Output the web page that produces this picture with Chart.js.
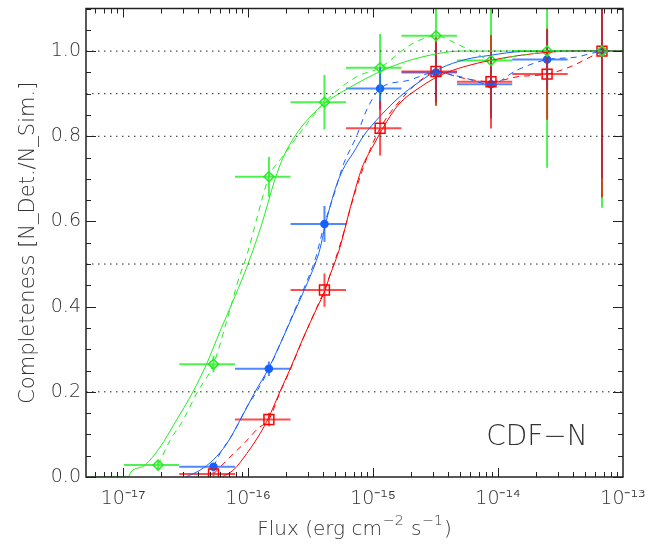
<!DOCTYPE html>
<html>
<head>
<meta charset="utf-8">
<script src="https://cdn.jsdelivr.net/npm/chart.js@4.4.1/dist/chart.umd.min.js"></script>
<style>
  html, body { margin: 0; padding: 0; background: #ffffff; }
  #wrap { width: 652px; height: 544px; }
</style>
</head>
<body>
<div id="wrap"><canvas id="chart_completeness" width="652" height="544"></canvas></div>
<script>
// axis ranges and ticks
const flux_min = 5.06e-18;
const flux_max = 1e-13;
const comp_min = 0;
const comp_max = 1.1;
const x_ticks = [1e-17, 1e-16, 1e-15, 1e-14, 1e-13];
const x_tick_labels = ['10⁻¹⁷', '10⁻¹⁶', '10⁻¹⁵', '10⁻¹⁴', '10⁻¹³'];
const y_ticks = [0, 0.2, 0.4, 0.6, 0.8, 1.0];
const ref_levels = [1.0, 0.9, 0.8, 0.5, 0.2];

// flux bins (edges) used for the horizontal error bars
const bin_edges = [1.02e-17, 2.82e-17, 7.87e-17, 2.19e-16, 6.08e-16, 1.69e-15, 4.70e-15, 1.30e-14, 3.61e-14, 1.0e-13];

// measured completeness, green (diamonds)
const green_flux = [1.91e-17, 5.30e-17, 1.47e-16, 4.09e-16, 1.14e-15, 3.19e-15, 8.79e-15, 2.47e-14, 6.79e-14];
const green_comp = [0.028, 0.265, 0.705, 0.880, 0.961, 1.036, 0.978, 1.0, 1.0];
const green_err = [0.011, 0.019, 0.047, 0.064, 0.079, 0.165, 0.13, 0.274, 0.368];

// measured completeness, blue (filled circles)
const blue_flux = [5.30e-17, 1.47e-16, 4.09e-16, 1.14e-15, 3.19e-15, 8.79e-15, 2.47e-14, 6.79e-14];
const blue_comp = [0.024, 0.254, 0.594, 0.912, 0.950, 0.922, 0.980, 1.0];
const blue_err = [0.008, 0.017, 0.042, 0.05, 0.07, 0.08, 0.07, 0.30];

// measured completeness, red (squares)
const red_flux = [5.30e-17, 1.47e-16, 4.09e-16, 1.14e-15, 3.19e-15, 8.79e-15, 2.47e-14, 6.79e-14];
const red_comp = [0.007, 0.135, 0.439, 0.819, 0.952, 0.928, 0.946, 1.0];
const red_err = [0.006, 0.016, 0.039, 0.064, 0.08, 0.11, 0.107, 0.344];

// model curves (solid)
const green_model_flux = [5.06e-18, 1.10e-17, 1.16e-17, 1.50e-17, 1.98e-17, 2.61e-17, 3.63e-17, 4.66e-17, 5.97e-17, 7.87e-17, 1.00e-16, 1.29e-16, 1.64e-16, 1.91e-16, 2.38e-16, 3.13e-16, 4.13e-16, 6.55e-16, 1.14e-15, 1.64e-15, 2.38e-15, 3.44e-15, 4.97e-15, 1.0e-13];
const green_model_comp = [0, 0, 0.012, 0.028, 0.070, 0.128, 0.200, 0.265, 0.342, 0.424, 0.500, 0.594, 0.698, 0.750, 0.801, 0.845, 0.878, 0.915, 0.952, 0.971, 0.985, 0.995, 1.0, 1.0];

const blue_model_flux = [3.19e-17, 4.13e-17, 5.27e-17, 6.76e-17, 8.63e-17, 1.14e-16, 1.45e-16, 1.80e-16, 2.30e-16, 2.86e-16, 3.44e-16, 3.77e-16, 4.13e-16, 5.13e-16, 5.97e-16, 6.95e-16, 8.36e-16, 1.14e-15, 1.64e-15, 2.38e-15, 3.44e-15, 5.45e-15, 8.63e-15, 1.58e-14, 1.0e-13];
const blue_model_comp = [0, 0.016, 0.040, 0.078, 0.133, 0.200, 0.253, 0.311, 0.381, 0.443, 0.500, 0.536, 0.589, 0.687, 0.731, 0.761, 0.800, 0.847, 0.893, 0.929, 0.959, 0.980, 0.990, 0.999, 1.0];

const red_model_flux = [6.19e-17, 7.62e-17, 9.77e-17, 1.25e-16, 1.45e-16, 1.80e-16, 2.17e-16, 2.77e-16, 3.55e-16, 4.13e-16, 4.53e-16, 4.97e-16, 5.45e-16, 6.76e-16, 8.17e-16, 1.0e-15, 1.37e-15, 1.64e-15, 2.38e-15, 3.44e-15, 5.45e-15, 8.63e-15, 1.50e-14, 2.46e-14, 3.77e-14, 1.0e-13];
const red_model_comp = [0, 0.016, 0.055, 0.102, 0.137, 0.200, 0.253, 0.327, 0.396, 0.438, 0.474, 0.505, 0.540, 0.645, 0.726, 0.777, 0.847, 0.878, 0.915, 0.943, 0.964, 0.978, 0.990, 0.997, 1.0, 1.0];

// dashed curves
const green_dash_flux = [1.91e-17, 2.38e-17, 3.02e-17, 3.91e-17, 5.30e-17, 6.92e-17, 8.63e-17, 9.64e-17, 1.16e-16, 1.29e-16, 1.47e-16, 1.91e-16, 2.61e-16, 4.09e-16, 7.41e-16, 1.14e-15, 1.86e-15, 2.51e-15, 3.19e-15, 4.68e-15, 6.76e-15, 8.79e-15, 1.32e-14, 1.91e-14, 2.47e-14, 6.79e-14];
const green_dash_comp = [0.028, 0.086, 0.133, 0.198, 0.265, 0.377, 0.475, 0.514, 0.600, 0.650, 0.705, 0.754, 0.808, 0.880, 0.940, 0.961, 1.009, 1.029, 1.036, 1.017, 0.994, 0.978, 0.987, 0.994, 1.0, 1.0];

const blue_dash_flux = [5.30e-17, 5.97e-17, 7.59e-17, 9.77e-17, 1.20e-16, 1.47e-16, 1.84e-16, 2.30e-16, 2.86e-16, 3.44e-16, 4.09e-16, 4.88e-16, 5.75e-16, 7.41e-16, 8.91e-16, 1.14e-15, 1.91e-15, 3.19e-15, 4.97e-15, 8.79e-15, 1.41e-14, 2.47e-14, 4.27e-14, 5.45e-14, 6.79e-14];
const blue_dash_comp = [0.024, 0.055, 0.102, 0.164, 0.205, 0.254, 0.317, 0.384, 0.449, 0.510, 0.594, 0.663, 0.731, 0.801, 0.862, 0.912, 0.931, 0.950, 0.940, 0.922, 0.955, 0.980, 0.986, 0.994, 1.0];

const red_dash_flux = [5.30e-17, 6.92e-17, 9.46e-17, 1.20e-16, 1.47e-16, 1.80e-16, 2.17e-16, 2.77e-16, 3.55e-16, 4.09e-16, 5.45e-16, 7.18e-16, 9.12e-16, 1.14e-15, 1.86e-15, 2.51e-15, 3.19e-15, 4.97e-15, 8.79e-15, 1.45e-14, 2.47e-14, 3.77e-14, 5.13e-14, 6.79e-14];
const red_dash_comp = [0.007, 0.042, 0.081, 0.114, 0.135, 0.198, 0.251, 0.326, 0.398, 0.439, 0.545, 0.668, 0.756, 0.819, 0.901, 0.936, 0.952, 0.938, 0.928, 0.940, 0.946, 0.963, 0.982, 1.0];

// label placed inside the plot (data coordinates)
const field_label = 'CDF−N';
const field_label_flux = 2.05e-14;
const field_label_comp = 0.075;

const green_col = '#22ee22';
const blue_col = '#1560ff';
const red_col = '#ff0000';
const font_family = '"DejaVu Sans", sans-serif';
const text_col = '#333333';

function to_points(xs, ys) {
    return xs.map((x, i) => ({ x: x, y: ys[i] }));
}

function curve_set(xs, ys, color, dashed) {
    return {
        data: to_points(xs, ys),
        borderColor: color,
        borderWidth: 1,
        borderDash: dashed ? [6, 5] : [],
        pointRadius: 0,
        fill: false,
        cubicInterpolationMode: 'monotone',
    };
}

function marker_set(xs, ys, color, style, radius, filled) {
    return {
        data: to_points(xs, ys),
        showLine: false,
        pointStyle: style,
        pointRadius: radius,
        pointBorderWidth: 1.5,
        pointBorderColor: color,
        pointBackgroundColor: filled ? color : 'rgba(0,0,0,0)',
    };
}

const ref_sets = ref_levels.map((lvl) => ({
    data: [{ x: flux_min, y: lvl }, { x: flux_max, y: lvl }],
    borderColor: '#222222',
    borderWidth: 1,
    borderDash: [1.5, 4.5],
    pointRadius: 0,
}));

const curve_sets = [
    curve_set(green_model_flux, green_model_comp, green_col, false),
    curve_set(green_dash_flux, green_dash_comp, green_col, true),
    curve_set(blue_model_flux, blue_model_comp, blue_col, false),
    curve_set(blue_dash_flux, blue_dash_comp, blue_col, true),
    curve_set(red_model_flux, red_model_comp, red_col, false),
    curve_set(red_dash_flux, red_dash_comp, red_col, true),
];

const marker_sets = [
    marker_set(green_flux, green_comp, green_col, 'rectRot', 5, false),
    marker_set(red_flux, red_comp, red_col, 'rect', 7, false),
    marker_set(blue_flux, blue_comp, blue_col, 'circle', 3.5, true),
];

const first_marker_index = ref_sets.length + curve_sets.length;

// horizontal bars span the flux bin, vertical bars the 1-sigma error
const bar_series = [
    { flux: green_flux, comp: green_comp, err: green_err, bin0: 0, color: 'rgba(34,238,34,0.8)' },
    { flux: blue_flux, comp: blue_comp, err: blue_err, bin0: 1, color: 'rgba(21,96,255,0.75)' },
    { flux: red_flux, comp: red_comp, err: red_err, bin0: 1, color: 'rgba(255,0,0,0.7)' },
];

const error_bar_plugin = {
    id: 'error_bars',
    beforeDatasetDraw(chart, args) {
        if (args.index !== first_marker_index) {
            return;
        }
        const ctx = chart.ctx;
        const area = chart.chartArea;
        const xs = chart.scales.x;
        const ys = chart.scales.y;
        ctx.save();
        ctx.beginPath();
        ctx.rect(area.left, area.top, area.right - area.left, area.bottom - area.top);
        ctx.clip();
        ctx.lineWidth = 2;
        bar_series.forEach((s) => {
            ctx.strokeStyle = s.color;
            s.flux.forEach((f, i) => {
                const px = xs.getPixelForValue(f);
                const py = ys.getPixelForValue(s.comp[i]);
                ctx.beginPath();
                ctx.moveTo(xs.getPixelForValue(bin_edges[s.bin0 + i]), py);
                ctx.lineTo(xs.getPixelForValue(bin_edges[s.bin0 + i + 1]), py);
                ctx.moveTo(px, ys.getPixelForValue(s.comp[i] - s.err[i]));
                ctx.lineTo(px, ys.getPixelForValue(s.comp[i] + s.err[i]));
                ctx.stroke();
            });
        });
        ctx.restore();
    },
};

function draw_sup_text(ctx, parts, cx, baseline) {
    let total = 0;
    parts.forEach((p) => {
        ctx.font = (p.sup ? '200 14px ' : '200 20px ') + font_family;
        p.w = ctx.measureText(p.t).width + (p.sup ? 2 : 0);
        total += p.w;
    });
    let x = cx - total / 2;
    parts.forEach((p) => {
        ctx.font = (p.sup ? '200 14px ' : '200 20px ') + font_family;
        ctx.fillText(p.t, x + (p.sup ? 1 : 0), p.sup ? baseline - 10 : baseline);
        x += p.w;
    });
}

const frame_plugin = {
    id: 'frame_ticks',
    afterDraw(chart) {
        const ctx = chart.ctx;
        const area = chart.chartArea;
        const xs = chart.scales.x;
        const ys = chart.scales.y;
        ctx.save();
        ctx.strokeStyle = '#222222';
        ctx.lineWidth = 1;
        ctx.beginPath();
        for (let e = -18; e <= -14; e++) {
            for (let m = 1; m <= 9; m++) {
                const v = m * Math.pow(10, e);
                if (v < flux_min) {
                    continue;
                }
                const px = Math.round(xs.getPixelForValue(v)) + 0.5;
                const len = m === 1 ? 9 : 5;
                ctx.moveTo(px, area.bottom);
                ctx.lineTo(px, area.bottom - len);
                ctx.moveTo(px, area.top);
                ctx.lineTo(px, area.top + len);
            }
        }
        for (let k = 0; k <= 22; k++) {
            const py = Math.round(ys.getPixelForValue(k * 0.05)) + 0.5;
            const len = k % 4 === 0 ? 10 : 5;
            ctx.moveTo(area.left, py);
            ctx.lineTo(area.left + len, py);
            ctx.moveTo(area.right, py);
            ctx.lineTo(area.right - len, py);
        }
        ctx.stroke();
        ctx.lineWidth = 1.5;
        ctx.strokeRect(area.left, area.top, area.right - area.left, area.bottom - area.top);

        ctx.fillStyle = text_col;
        ctx.textBaseline = 'alphabetic';
        ctx.textAlign = 'left';
        draw_sup_text(ctx, [
            { t: 'Flux (erg cm' }, { t: '−2', sup: true }, { t: ' s' }, { t: '−1', sup: true }, { t: ')' },
        ], (area.left + area.right) / 2, 535);

        ctx.font = '200 28px ' + font_family;
        ctx.textAlign = 'center';
        ctx.fillText(field_label, xs.getPixelForValue(field_label_flux), ys.getPixelForValue(field_label_comp));
        ctx.restore();
    },
};

new Chart(document.getElementById('chart_completeness'), {
    type: 'line',
    data: { datasets: ref_sets.concat(curve_sets, marker_sets) },
    options: {
        responsive: false,
        animation: false,
        layout: { padding: { left: 0, right: 29, top: 5, bottom: 0 } },
        plugins: {
            legend: { display: false },
            tooltip: { enabled: false },
        },
        scales: {
            x: {
                type: 'logarithmic',
                min: flux_min,
                max: flux_max,
                grid: { display: false, drawTicks: false },
                border: { display: false },
                afterBuildTicks: (scale) => {
                    scale.ticks = x_ticks.map((v) => ({ value: v }));
                },
                afterFit: (scale) => {
                    scale.height = 67;
                    scale.paddingLeft = 0;
                    scale.paddingRight = 0;
                },
                ticks: {
                    autoSkip: false,
                    maxRotation: 0,
                    padding: 11,
                    color: text_col,
                    font: { family: font_family, size: 19, weight: '200' },
                    callback: (v, i) => x_tick_labels[i],
                },
            },
            y: {
                type: 'linear',
                min: comp_min,
                max: comp_max,
                grid: { display: false, drawTicks: false },
                border: { display: false },
                afterBuildTicks: (scale) => {
                    scale.ticks = y_ticks.map((v) => ({ value: v }));
                },
                afterFit: (scale) => {
                    scale.width = 86;
                    scale.paddingTop = 0;
                    scale.paddingBottom = 0;
                },
                ticks: {
                    padding: 5,
                    color: text_col,
                    font: { family: font_family, size: 19, weight: '200' },
                    callback: (v) => Number(v).toFixed(1),
                },
                title: {
                    display: true,
                    text: 'Completeness [N_Det./N_Sim.]',
                    color: text_col,
                    font: { family: font_family, size: 21, weight: '200' },
                    padding: { top: 16, bottom: 0 },
                },
            },
        },
    },
    plugins: [error_bar_plugin, frame_plugin],
});
</script>
</body>
</html>
